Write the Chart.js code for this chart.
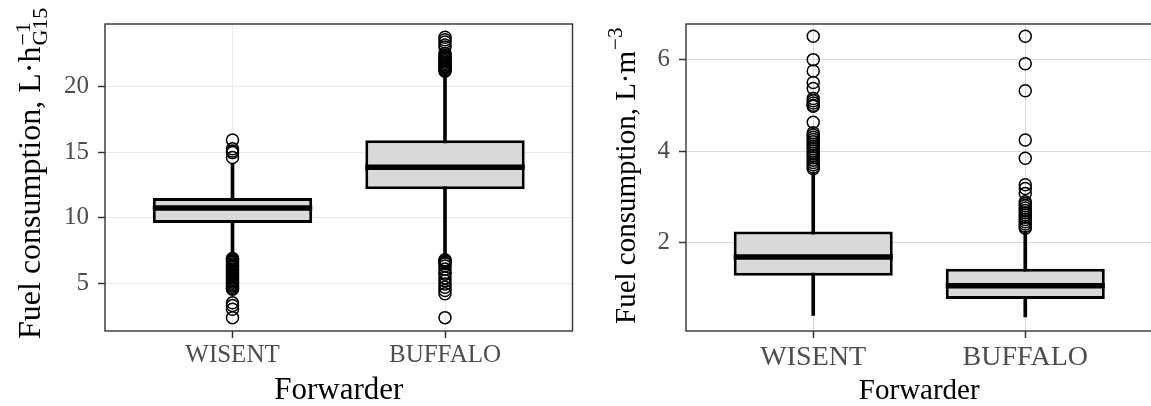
<!DOCTYPE html>
<html>
<head>
<meta charset="utf-8">
<script src="https://cdn.jsdelivr.net/npm/chart.js@4.4.1/dist/chart.umd.min.js"></script>
<style>
  body { margin: 0; width: 1151px; height: 406px; overflow: hidden; background: #fff; position: relative; }
  canvas { position: absolute; top: 0; }
  #hourChart { left: 0; }
  #cubicChart { left: 580px; }
</style>
</head>
<body>
<canvas id="hourChart" width="580" height="406"></canvas>
<canvas id="cubicChart" width="580" height="406"></canvas>
<script>
"use strict";

const forwarders = ['WISENT', 'BUFFALO'];

// Left panel: fuel consumption per G15 hour
const hourQ1 = [9.61, 12.19];
const hourMedian = [10.75, 13.87];
const hourQ3 = [11.52, 15.93];
const hourWhiskerLow = [7.1, 6.9];
const hourWhiskerHigh = [14.15, 21.1];
const hourOutliersWisent = [15.94, 15.28, 15.1, 14.98, 14.6,
    6.9, 6.85, 6.8, 6.7, 6.6, 6.5, 6.4, 6.3, 6.2, 6.1, 6.0, 5.9, 5.8, 5.7, 5.6,
    5.5, 5.4, 5.3, 5.2, 5.1, 5.0, 4.9, 4.8, 4.7, 4.6, 4.55, 3.51, 3.3, 3.02, 2.38];
const hourOutliersBuffalo = [23.79, 23.6, 23.42, 23.2, 23.04, 22.55, 22.4, 22.3, 22.2, 22.1,
    22.0, 21.9, 21.8, 21.7, 21.6, 21.5, 21.4, 21.3, 21.2,
    6.8, 6.75, 6.7, 6.6, 6.5, 6.33, 6.1, 5.8, 5.7, 5.4, 5.2, 4.95, 4.7, 4.45, 4.2, 2.38];
const hourTicks = [5, 10, 15, 20];

// Right panel: fuel consumption per m3
const cubicQ1 = [1.27, 0.76];
const cubicMedian = [1.68, 1.05];
const cubicQ3 = [2.24, 1.42];
const cubicWhiskerLow = [0.40, 0.37];
const cubicWhiskerHigh = [3.54, 2.24];
const cubicOutliersWisent = [6.51, 6.0, 5.75, 5.5, 5.37, 5.15, 5.1, 5.05, 5.0, 4.98, 4.63,
    4.4, 4.35, 4.3, 4.25, 4.2, 4.15, 4.1, 4.05, 4.0, 3.95, 3.9, 3.85, 3.8, 3.75, 3.7, 3.65, 3.61];
const cubicOutliersBuffalo = [6.51, 5.91, 5.32, 4.24, 3.84, 3.26, 3.18, 3.07,
    2.89, 2.85, 2.8, 2.75, 2.7, 2.65, 2.6, 2.55, 2.5, 2.45, 2.4, 2.35, 2.31];
const cubicTicks = [2, 4, 6];

const serif = '"Liberation Serif", "Times New Roman", serif';
const boxWidth = 0.75;

// y axis title with super/subscript, drawn rotated
const richTitle = {
    id: 'richTitle',
    afterDraw(chart, args, opts) {
        if (!opts.text) return;
        const ctx = chart.ctx;
        ctx.save();
        ctx.translate(opts.x, opts.y);
        ctx.rotate(-Math.PI / 2);
        ctx.fillStyle = '#000';
        ctx.textAlign = 'left';
        ctx.textBaseline = 'alphabetic';
        ctx.font = opts.size + 'px ' + serif;
        ctx.fillText(opts.text, 0, 0);
        const w = ctx.measureText(opts.text).width + 1;
        ctx.font = opts.smallSize + 'px ' + serif;
        if (opts.sup) ctx.fillText(opts.sup, w, -opts.supRise);
        if (opts.sub) ctx.fillText(opts.sub, w, opts.subDrop);
        ctx.restore();
    }
};

// panel border like theme_bw
const panelBorder = {
    id: 'panelBorder',
    afterDatasetsDraw(chart, args, opts) {
        const {ctx, chartArea: a} = chart;
        ctx.save();
        ctx.strokeStyle = opts.color || '#333';
        ctx.lineWidth = opts.width || 1.3;
        ctx.strokeRect(a.left, a.top, a.right - a.left, a.bottom - a.top);
        ctx.restore();
    }
};

Chart.register(richTitle, panelBorder);

function buildChart(canvasId, p) {
    const ctx = document.getElementById(canvasId).getContext('2d');
    const datasets = [];

    datasets.push({
        type: 'bar',
        data: forwarders.map((f, i) => ({x: i + 1, y: [p.low[i], p.high[i]]})),
        backgroundColor: '#000',
        grouped: false,
        barPercentage: 1,
        categoryPercentage: 1,
        maxBarThickness: 3,
        order: 4
    });
    datasets.push({
        type: 'bar',
        data: forwarders.map((f, i) => ({x: i + 1, y: [p.q1[i], p.q3[i]]})),
        backgroundColor: '#d9d9d9',
        borderColor: '#000',
        borderWidth: 3,
        borderSkipped: false,
        grouped: false,
        barPercentage: boxWidth,
        categoryPercentage: 1,
        order: 3
    });
    forwarders.forEach((f, i) => {
        datasets.push({
            type: 'line',
            data: [{x: i + 1 - boxWidth / 2, y: p.median[i]}, {x: i + 1 + boxWidth / 2, y: p.median[i]}],
            borderColor: '#000',
            borderWidth: 5.5,
            borderCapStyle: 'butt',
            pointRadius: 0,
            order: 2
        });
    });
    p.outliers.forEach((list, i) => {
        datasets.push({
            type: 'scatter',
            data: list.map(v => ({x: i + 1, y: v})),
            pointStyle: 'circle',
            pointRadius: 6,
            borderColor: '#000',
            borderWidth: 1.5,
            backgroundColor: 'rgba(0,0,0,0)',
            order: 1
        });
    });

    return new Chart(ctx, {
        type: 'bar',
        data: {datasets},
        options: {
            responsive: false,
            devicePixelRatio: 1,
            animation: false,
            events: [],
            layout: {padding: {left: 0, top: 20, right: p.padRight, bottom: 0}},
            plugins: {
                legend: {display: false},
                tooltip: {enabled: false},
                richTitle: p.title,
                panelBorder: {color: '#333', width: 1.4}
            },
            scales: {
                x: {
                    type: 'linear',
                    min: 0.4,
                    max: 2.6,
                    offset: false,
                    afterBuildTicks: s => { s.ticks = forwarders.map((f, i) => ({value: i + 1})); },
                    afterFit: s => { s.height = 75; },
                    ticks: {
                        callback: v => forwarders[v - 1],
                        color: '#4d4d4d',
                        font: {family: serif, size: p.xTickSize},
                        padding: p.xTickPad,
                        maxRotation: 0,
                        autoSkip: false
                    },
                    grid: {color: p.gridColor, lineWidth: 1, tickLength: 7, tickColor: '#333', tickWidth: 1.5, offset: false},
                    border: {display: false},
                    title: {
                        display: true,
                        text: 'Forwarder',
                        color: '#000',
                        font: {family: serif, size: p.xTitleSize, lineHeight: 1},
                        padding: {top: 0, bottom: 0}
                    }
                },
                y: {
                    type: 'linear',
                    min: p.yMin,
                    max: p.yMax,
                    beginAtZero: false,
                    afterBuildTicks: s => { s.ticks = p.ticks.map(v => ({value: v})); },
                    afterFit: s => { s.width = p.yWidth; },
                    ticks: {
                        color: '#4d4d4d',
                        font: {family: serif, size: p.yTickSize},
                        padding: 9
                    },
                    grid: {color: p.gridColor, lineWidth: 1, tickLength: 7, tickColor: '#333', tickWidth: 1.5},
                    border: {display: false}
                }
            }
        }
    });
}

window.addEventListener('DOMContentLoaded', () => {
    buildChart('hourChart', {
        q1: hourQ1, median: hourMedian, q3: hourQ3,
        low: hourWhiskerLow, high: hourWhiskerHigh,
        outliers: [hourOutliersWisent, hourOutliersBuffalo],
        ticks: hourTicks, yMin: 1.36, yMax: 24.8,
        yWidth: 105, padRight: 1, gridColor: '#ebebeb',
        xTickSize: 25, xTickPad: 2, xTitleSize: 31, yTickSize: 25,
        title: {text: 'Fuel consumption, L\u00b7h', sup: '\u22121', sub: 'G15',
            x: 40, y: 339, size: 32, smallSize: 22, supRise: 10, subDrop: 7}
    });
    buildChart('cubicChart', {
        q1: cubicQ1, median: cubicMedian, q3: cubicQ3,
        low: cubicWhiskerLow, high: cubicWhiskerHigh,
        outliers: [cubicOutliersWisent, cubicOutliersBuffalo],
        ticks: cubicTicks, yMin: 0.06, yMax: 6.78,
        yWidth: 106, padRight: 2, gridColor: '#d9d9d9',
        xTickSize: 28, xTickPad: 3, xTitleSize: 29, yTickSize: 25,
        title: {text: 'Fuel consumption, L\u00b7m', sup: '\u22123',
            x: 55, y: 324, size: 29, smallSize: 21, supRise: 13, subDrop: 0}
    });
});
</script>
</body>
</html>
